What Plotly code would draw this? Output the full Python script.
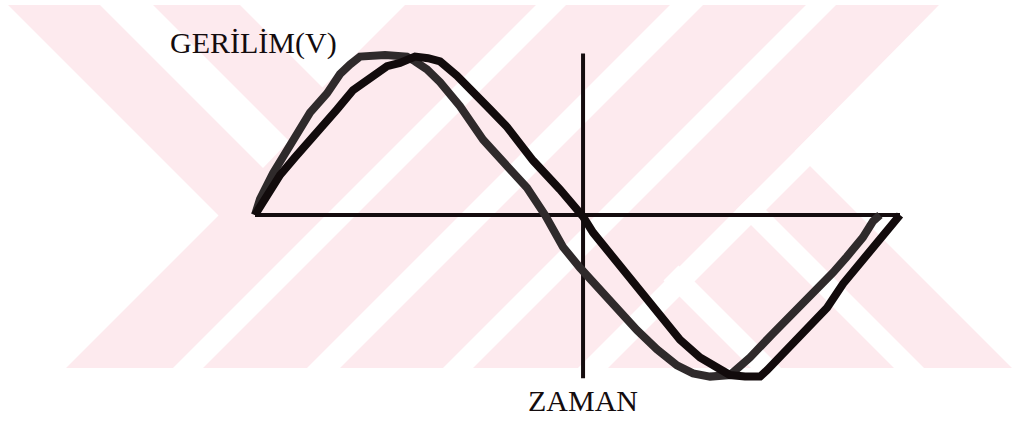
import plotly.graph_objects as go

# ---- data (time in degrees, voltage normalised to peak) ----
t_v1 = [0, 2.8, 10.0, 15.6, 21.2, 30.7, 40.2, 47.4, 53.0, 58.6, 72.6, 84.8, 89.3, 96.0,
        103.3, 114.4, 127.3, 140.7, 151.8, 161.9, 167.4, 171.9, 181.4, 190.9, 202.0,
        213.2, 224.4, 235.5, 244.5, 254.0, 265.1, 272.4, 276.3, 289.1, 302.5, 313.7,
        322.6, 330.4, 339.3, 344.9, 348.8]
v_v1 = [0.00, 0.10, 0.26, 0.36, 0.47, 0.64, 0.76, 0.88, 0.94, 0.99, 1.00, 0.99, 0.96, 0.91,
        0.83, 0.68, 0.47, 0.30, 0.17, 0.00, -0.11, -0.20, -0.33, -0.45, -0.58,
        -0.72, -0.84, -0.94, -0.99, -1.01, -1.00, -0.93, -0.89, -0.74, -0.59, -0.47,
        -0.36, -0.26, -0.14, -0.04, 0.00]

t_v2 = [0, 7.3, 14.0, 22.3, 34.6, 45.8, 54.7, 65.9, 73.7, 80.9, 89.3, 96.6, 103.3, 112.7,
        121.7, 131.2, 140.7, 155.2, 170.2, 179.7, 183.1, 188.7, 196.5, 207.6, 218.8,
        227.7, 237.2, 248.4, 257.9, 265.1, 273.5, 281.9, 285.8, 296.9, 309.8, 319.3,
        328.2, 337.7, 347.2, 354.4, 360.0]
v_v2 = [0.00, 0.13, 0.25, 0.36, 0.51, 0.66, 0.78, 0.86, 0.93, 0.95, 0.99, 0.98, 0.96, 0.87,
        0.76, 0.66, 0.55, 0.34, 0.16, 0.03, -0.01, -0.11, -0.22, -0.36, -0.53,
        -0.66, -0.78, -0.89, -0.96, -1.00, -1.01, -1.01, -0.97, -0.84, -0.68, -0.58,
        -0.43, -0.30, -0.18, -0.08, 0.00]

time_axis_t = [0, 360]
time_axis_v = [0, 0]
volt_axis_t = [183.1, 183.1]
volt_axis_v = [1.01, -1.02]

y_label = "GERİLİM(V)"
x_label = "ZAMAN"

# ---- layout geometry ----
W, H = 1012, 421
X0_PX, T_SCALE = 255, 645 / 360
Y0_PX, V_SCALE = 215, 160
x_range = [-X0_PX / T_SCALE, (W - X0_PX) / T_SCALE]
y_range = [(Y0_PX - H) / V_SCALE, Y0_PX / V_SCALE]

INK = "#140c0e"
PINK = "#fdeaee"
TOP, BOT = 5, 368


def px_path(pts):
    s = ""
    for i, (x, y) in enumerate(pts):
        s += ("M" if i == 0 else "L") + f"{x / W:.5f},{1 - y / H:.5f} "
    return s + "Z"


def poly(pts, color):
    return dict(type="path", xref="paper", yref="paper", path=px_path(pts),
                fillcolor=color, line=dict(width=0), layer="below")


def slash_stripe(c0, c1):
    # white band between lines x + y = c0 and x + y = c1, clipped to the watermark strip
    return [(c0 - TOP, TOP), (c1 - TOP, TOP), (c1 - BOT, BOT), (c0 - BOT, BOT)]


# watermark (background decoration)
shapes = [poly([(0, TOP), (W, TOP), (W, BOT), (0, BOT)], PINK)]
white_parts = [
    [(0, TOP), (8, TOP), (218.5, 215.5), (66, BOT), (0, BOT)],        # left chevron gap
    [(100, TOP), (153, TOP), (289, 141), (263, 168)],                 # left stripe
    [(240, TOP), (405, TOP), (322.5, 87.5)],                           # upper V gap
    slash_stripe(541, 571),
    slash_stripe(675, 708),
    slash_stripe(811, 841),
    slash_stripe(946, 976),
    [(939, TOP), (W, TOP), (W, BOT), (795, 151)],                      # right chevron gap
    [(678.5, 265.5), (781, BOT), (751, BOT), (663.5, 280.5)],         # right branch 1
    [(751, 195), (924, BOT), (894, BOT), (736, 210)],                 # right branch 2
]
for wp in white_parts:
    shapes.append(poly(wp, "#ffffff"))

fig = go.Figure()
fig.add_trace(go.Scatter(x=time_axis_t, y=time_axis_v, mode="lines",
                         line=dict(color=INK, width=4), hoverinfo="skip", showlegend=False))
fig.add_trace(go.Scatter(x=volt_axis_t, y=volt_axis_v, mode="lines",
                         line=dict(color=INK, width=4), hoverinfo="skip", showlegend=False))
fig.add_trace(go.Scatter(x=t_v1, y=v_v1, mode="lines",
                         line=dict(color="#2f2a2b", width=8), showlegend=False))
fig.add_trace(go.Scatter(x=t_v2, y=v_v2, mode="lines",
                         line=dict(color="#120b0c", width=8), showlegend=False))

fig.update_layout(
    width=W, height=H, autosize=False,
    margin=dict(l=0, r=0, t=0, b=0),
    paper_bgcolor="white", plot_bgcolor="rgba(0,0,0,0)",
    xaxis=dict(range=x_range, visible=False, fixedrange=True),
    yaxis=dict(range=y_range, visible=False, fixedrange=True),
    shapes=shapes,
    annotations=[
        dict(text=y_label, xref="paper", yref="paper", x=168 / W, y=1 - 43 / H,
             xanchor="left", yanchor="middle", showarrow=False,
             font=dict(family="Liberation Serif", size=30, color=INK)),
        dict(text=x_label, xref="paper", yref="paper", x=583 / W, y=1 - 400 / H,
             xanchor="center", yanchor="middle", showarrow=False,
             font=dict(family="Liberation Serif", size=30, color=INK)),
    ],
)

fig.write_html(
    "out.html",
    config={"displayModeBar": False},
    post_script="document.body.style.margin='0px';document.body.style.overflow='hidden';",
)
